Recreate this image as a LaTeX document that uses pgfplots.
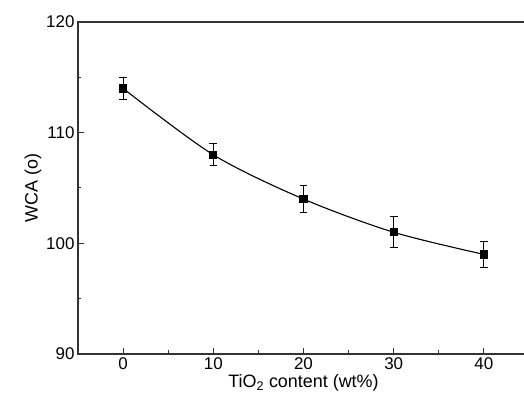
\documentclass[border=0pt]{standalone}
\usepackage{fontspec}
\setmainfont{Liberation Sans}
\usepackage{pgfplots}
\pgfplotsset{compat=1.18}
\newcommand\myTickFnt{\fontsize{17}{20}\selectfont}
\newcommand\myLabFnt{\fontsize{18}{21}\selectfont}

\begin{document}
\begin{tikzpicture}
\begin{axis}[
 name=ax,
 scale only axis,
 width=451bp,height=332bp,
 xmin=-5,xmax=45,ymin=90,ymax=120,
 xtick={0,10,20,30,40},ytick={90,100,110,120},
 minor xtick={5,15,25,35},minor ytick={95,105,115},
 tick pos=left,tick align=inside,
 major tick length=6bp,minor tick length=3.5bp,
 axis line style={line width=1.1bp,black!80},
 tick style={line width=1bp,black!80},
 tick label style={font=\myTickFnt},
 /pgf/number format/assume math mode=true,
 xticklabel={\hbox{\myTickFnt\pgfmathprintnumber{\tick}}},
 yticklabel={\hbox{\myTickFnt\pgfmathprintnumber{\tick}}},
 xlabel={TiO\textsubscript{2} content (wt\%)},
 ylabel={WCA (o)},
 every axis label/.append style={font=\myLabFnt},
 xlabel style={yshift=2bp},
 ylabel style={yshift=-2bp},
]
\addplot[black,line width=1.1bp,smooth,mark=square*,mark size=3.6bp,
 error bars/.cd,y dir=both,y explicit,
 error bar style={line width=0.9bp},
 error mark options={rotate=90,mark size=3.8bp,line width=0.9bp}]
 coordinates {(0,114) +- (0,1.0) (10,108) +- (0,1.0) (20,104) +- (0,1.2) (30,101) +- (0,1.4) (40,99) +- (0,1.2)};
\end{axis}
\pgfresetboundingbox
\useasboundingbox ([xshift=-78bp,yshift=-58bp]ax.south west) rectangle ([xshift=-5bp,yshift=22bp]ax.north east);
\end{tikzpicture}
\end{document}
